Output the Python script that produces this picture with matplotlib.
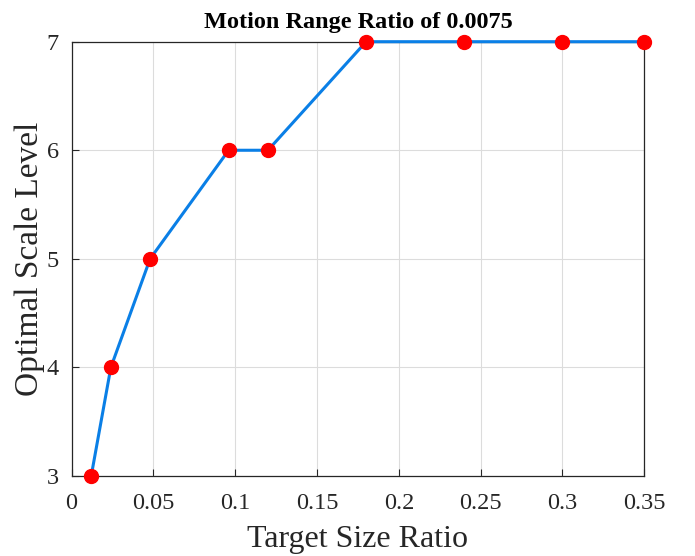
import matplotlib.pyplot as plt

plt.rcParams['font.family'] = ['Liberation Serif', 'DejaVu Serif']

# target size ratio vs. chosen scale level
size_ratio = [0.012, 0.024, 0.048, 0.096, 0.12, 0.18, 0.24, 0.30, 0.35]
scale_level = [3, 4, 5, 6, 6, 7, 7, 7, 7]
x_ticks = [0, 0.05, 0.1, 0.15, 0.2, 0.25, 0.3, 0.35]
x_tick_labels = ['0', '0.05', '0.1', '0.15', '0.2', '0.25', '0.3', '0.35']
y_ticks = [3, 4, 5, 6, 7]

fig = plt.figure(figsize=(6.95, 5.56), dpi=100)
ax = fig.add_axes([0.103, 0.144, 0.824, 0.781])

ax.plot(size_ratio, scale_level, color='#0A7FE6', linewidth=2.2,
        marker='o', markersize=10, markerfacecolor='#FF0000',
        markeredgecolor='#FF0000', clip_on=False, zorder=3)

ax.set_xlim(0, 0.35)
ax.set_ylim(3, 7)
ax.set_xticks(x_ticks)
ax.set_xticklabels(x_tick_labels)
ax.set_yticks(y_ticks)
ax.grid(True, color='#DCDCDC', linewidth=0.8)
ax.set_axisbelow(True)
ax.tick_params(direction='in', length=5, width=0.8, labelsize=17.5,
               colors='#262626')
ax.tick_params(axis='x', pad=12)
ax.tick_params(axis='y', pad=9)
for side in ax.spines.values():
    side.set_color('#262626')
    side.set_linewidth(0.9)

ax.set_xlabel('Target Size Ratio', fontsize=23, color='#262626', labelpad=8)
ax.set_ylabel('Optimal Scale Level', fontsize=24, color='#262626', labelpad=1)
ax.set_title('Motion Range Ratio of 0.0075', fontsize=17.5, fontweight='bold',
             pad=10)

fig.savefig('out.png', dpi=100)
